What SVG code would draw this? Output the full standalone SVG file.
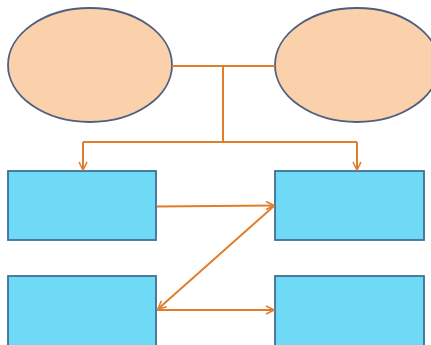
<svg xmlns="http://www.w3.org/2000/svg" width="431" height="345" viewBox="0 0 431 345">
<style>
.ell{fill:#FBD1AC;stroke:#4F5F7F;stroke-width:1.8}
.box{fill:#6FDAF5;stroke:#3F6F96;stroke-width:1.8}
.con{fill:none;stroke:#E07E2C;stroke-width:2}
</style>
<defs>
<marker id="ah" viewBox="0 0 10 10" refX="9" refY="5" markerWidth="5" markerHeight="5" orient="auto-start-reverse" markerUnits="strokeWidth">
<path d="M1,1 L9,5 L1,9" fill="none" stroke="#E07E2C" stroke-width="1.6"/>
</marker>
</defs>
<rect width="431" height="345" fill="#ffffff"/>
<g id="ellipse-left"><ellipse class="ell" cx="90" cy="65" rx="82" ry="57"/></g>
<g id="ellipse-right"><ellipse class="ell" cx="357" cy="65" rx="82" ry="57"/></g>
<g id="box-tl"><rect class="box" x="8" y="171" width="148" height="69"/></g>
<g id="box-tr"><rect class="box" x="275" y="171" width="149" height="69"/></g>
<g id="box-bl"><rect class="box" x="8" y="276" width="148" height="75"/></g>
<g id="box-br"><rect class="box" x="275" y="276" width="149" height="75"/></g>
<g id="connectors">
<path class="con" d="M172,66 H275"/>
<path class="con" d="M223,66 V142"/>
<path class="con" d="M83,142 H357"/>
<path class="con" d="M83,142 V170" marker-end="url(#ah)"/>
<path class="con" d="M357,142 V170" marker-end="url(#ah)"/>
<path class="con" d="M157,206.5 L274,205.5" marker-end="url(#ah)"/>
<path class="con" d="M274,206 L158,309" marker-end="url(#ah)"/>
<path class="con" d="M157,310 H274" marker-end="url(#ah)"/>
</g>
</svg>
